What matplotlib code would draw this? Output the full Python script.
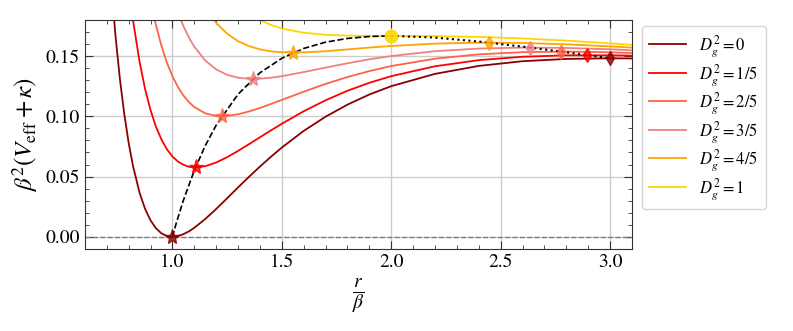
import matplotlib
matplotlib.use('Agg')
import matplotlib.pyplot as plt
from matplotlib.ticker import MultipleLocator

plt.rcParams['font.family'] = 'STIXGeneral'
plt.rcParams['mathtext.fontset'] = 'stix'

# r / beta (shared grid for all curves)
r = [0.70, 0.72, 0.74, 0.76, 0.78, 0.80, 0.82, 0.85, 0.875, 0.90, 0.925, 0.95, 0.975,
     1.00, 1.025, 1.05, 1.075, 1.10, 1.15, 1.20, 1.25, 1.30, 1.35, 1.40, 1.45, 1.50,
     1.60, 1.70, 1.80, 1.90, 2.00, 2.20, 2.40, 2.60, 2.80, 3.00, 3.10]

V_0 = [0.2624, 0.2100, 0.1668, 0.1312, 0.1020, 0.0781, 0.0588, 0.0366, 0.0233, 0.0137,
       0.0071, 0.0029, 0.0007, 0.0, 0.0006, 0.0022, 0.0045, 0.0075, 0.0148, 0.0231,
       0.0320, 0.0410, 0.0498, 0.0583, 0.0664, 0.0741, 0.0879, 0.0997, 0.1097, 0.1181,
       0.1250, 0.1352, 0.1418, 0.1457, 0.1476, 0.1481, 0.1480]
V_1 = [0.4568, 0.3886, 0.3313, 0.2831, 0.2425, 0.2083, 0.1797, 0.1452, 0.1228, 0.1052,
       0.0913, 0.0807, 0.0726, 0.0667, 0.0625, 0.0598, 0.0582, 0.0576, 0.0586, 0.0617,
       0.0661, 0.0713, 0.0769, 0.0826, 0.0883, 0.0938, 0.1042, 0.1133, 0.1212, 0.1278,
       0.1333, 0.1415, 0.1466, 0.1494, 0.1506, 0.1506, 0.1503]
V_2 = [0.6511, 0.5672, 0.4958, 0.4349, 0.3830, 0.3385, 0.3006, 0.2537, 0.2223, 0.1966,
       0.1756, 0.1584, 0.1445, 0.1333, 0.1244, 0.1173, 0.1119, 0.1077, 0.1025, 0.1003,
       0.1003, 0.1017, 0.1040, 0.1069, 0.1102, 0.1136, 0.1204, 0.1269, 0.1326, 0.1375,
       0.1417, 0.1478, 0.1514, 0.1532, 0.1537, 0.1531, 0.1525]
V_3 = [0.8455, 0.7458, 0.6604, 0.5868, 0.5235, 0.4687, 0.4215, 0.3623, 0.3219, 0.2881,
       0.2598, 0.2362, 0.2165, 0.2000, 0.1863, 0.1749, 0.1655, 0.1578, 0.1463, 0.1389,
       0.1344, 0.1320, 0.1311, 0.1312, 0.1320, 0.1333, 0.1367, 0.1404, 0.1440, 0.1473,
       0.1500, 0.1540, 0.1562, 0.1570, 0.1567, 0.1556, 0.1547]
V_4 = [1.0399, 0.9245, 0.8249, 0.7387, 0.6640, 0.5989, 0.5424, 0.4708, 0.4214, 0.3795,
       0.3440, 0.3139, 0.2884, 0.2667, 0.2482, 0.2325, 0.2192, 0.2079, 0.1901, 0.1775,
       0.1685, 0.1623, 0.1582, 0.1555, 0.1539, 0.1531, 0.1530, 0.1540, 0.1555, 0.1570,
       0.1583, 0.1603, 0.1611, 0.1608, 0.1597, 0.1580, 0.1570]
V_5 = [1.2342, 1.1031, 0.9894, 0.8906, 0.8045, 0.7292, 0.6633, 0.5794, 0.5209, 0.4710,
       0.4283, 0.3917, 0.3603, 0.3333, 0.3101, 0.2901, 0.2729, 0.2579, 0.2340, 0.2160,
       0.2027, 0.1927, 0.1853, 0.1798, 0.1758, 0.1728, 0.1693, 0.1676, 0.1669, 0.1667,
       0.1667, 0.1665, 0.1659, 0.1646, 0.1628, 0.1605, 0.1592]
curves = [V_0, V_1, V_2, V_3, V_4, V_5]
labels = [r'$D_g^2=0$', r'$D_g^2=1/5$', r'$D_g^2=2/5$', r'$D_g^2=3/5$',
          r'$D_g^2=4/5$', r'$D_g^2=1$']
colors = ['darkred', 'red', 'tomato', 'lightcoral', 'orange', 'gold']

# minima (stars) and maxima (diamonds)
min_r = [1.0, 1.1056, 1.2254, 1.3675, 1.5528]
min_V = [0.0, 0.0576, 0.1001, 0.1310, 0.1528]
max_r = [3.0, 2.8944, 2.7746, 2.6325, 2.4472]
max_V = [0.1481, 0.1508, 0.1537, 0.1570, 0.1611]
infl_r, infl_V = 2.0, 0.1667

# locus of the extrema
loc_min_r = [1.0, 1.02, 1.05, 1.1, 1.15, 1.2, 1.3, 1.4, 1.5, 1.6, 1.7, 1.8, 1.9, 2.0]
loc_min_V = [0.0, 0.0128, 0.0302, 0.0551, 0.0756, 0.0926, 0.1183, 0.1361, 0.1481,
             0.1563, 0.1615, 0.1646, 0.1662, 0.1667]
loc_max_r = [2.0, 2.2, 2.4, 2.6, 2.8, 3.0]
loc_max_V = [0.1667, 0.1653, 0.1620, 0.1578, 0.1531, 0.1481]

fig = plt.figure(figsize=(7.93, 3.31), dpi=100)
ax = fig.add_axes([0.107, 0.248, 0.690, 0.692])

ax.axhline(0, color='gray', ls='--', lw=1, zorder=1)
for V, c, lab in zip(curves, colors, labels):
    ax.plot(r, V, color=c, lw=1.3, label=lab, zorder=2)

ax.plot(loc_min_r, loc_min_V, 'k--', lw=1.2, zorder=3)
ax.plot(loc_max_r, loc_max_V, 'k:', lw=1.5, zorder=3)

for i in range(5):
    ax.plot(min_r[i], min_V[i], '*', color=colors[i], ms=11, alpha=0.8, zorder=4)
    ax.plot(max_r[i], max_V[i], 'd', color=colors[i], ms=7, alpha=0.8, zorder=4)
ax.plot(infl_r, infl_V, 'o', color=colors[5], ms=9, alpha=0.9, zorder=4)

ax.set_xlim(0.6, 3.1)
ax.set_ylim(-0.01, 0.18)
ax.xaxis.set_major_locator(MultipleLocator(0.5))
ax.xaxis.set_minor_locator(MultipleLocator(0.1))
ax.yaxis.set_major_locator(MultipleLocator(0.05))
ax.yaxis.set_minor_locator(MultipleLocator(0.01))
ax.tick_params(which='both', direction='in', top=True, right=True, labelsize=14,
               color='#333333')
ax.tick_params(which='major', length=6)
ax.tick_params(which='minor', length=3)
for s in ax.spines.values():
    s.set_color('#333333')
ax.grid(which='major', color='#cccccc', lw=1)
ax.set_axisbelow(True)

ax.set_xlabel(r'$\frac{r}{\beta}$', fontsize=20)
ax.set_ylabel(r'$\beta^2(V_{\rm eff}+\kappa)$', fontsize=18)

ax.legend(loc='upper left', bbox_to_anchor=(1.003, 1.01), fontsize=12,
          labelspacing=0.15, handlelength=2.2, borderpad=0.45)

fig.savefig('out.png', dpi=100)
